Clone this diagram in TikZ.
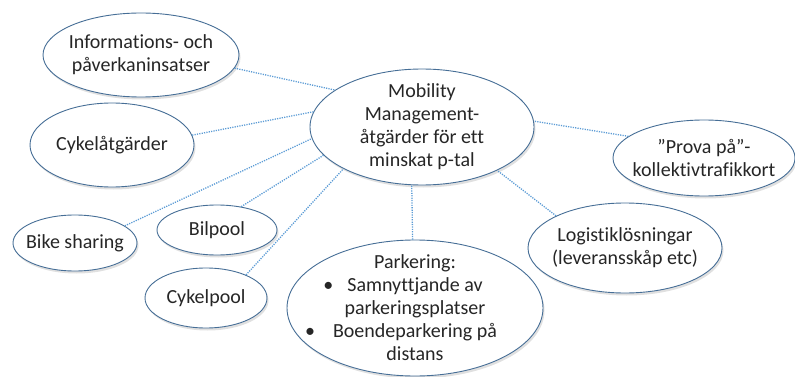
\documentclass[tikz,border=0pt]{standalone}
\usepackage{fontspec}
\setmainfont{Carlito}[Ligatures=NoCommon]
\usetikzlibrary{shapes.geometric,shadows}
\definecolor{edgeblue}{RGB}{70,110,150}
\definecolor{linkblue}{RGB}{91,155,213}
\tikzset{
  bubble/.style={ellipse, draw=edgeblue, line width=0.9pt, fill=white, inner sep=0pt,
    drop shadow={shadow xshift=1.5pt, shadow yshift=-2.5pt, opacity=0.35, fill=gray!70}},
  txt/.style={align=center, text=black!85, inner sep=0pt,
    font=\fontsize{20}{23}\selectfont},
  link/.style={draw=linkblue, line width=1.3pt, dash pattern=on 1.2pt off 1.2pt}
}
\begin{document}
\begin{tikzpicture}[x=1pt,y=-1pt]
\useasboundingbox (0,0) rectangle (795,377);
\node[bubble, minimum width=224pt, minimum height=116pt,
  label={[txt]center:{Mobility\\Management-\\åtgärder för ett\\minskat p-tal}}] (main) at (422,127) {};
\node[bubble, minimum width=196pt, minimum height=84pt,
  label={[txt]center:{Informations- och\\påverkaninsatser}}] (info) at (141,55) {};
\node[bubble, minimum width=164pt, minimum height=84pt,
  label={[txt]center:{Cykelåtgärder}}] (cykel) at (112,145) {};
\node[bubble, minimum width=124pt, minimum height=56pt,
  label={[txt]center:{Bike sharing}}] (bike) at (75,243) {};
\node[bubble, minimum width=120pt, minimum height=50pt,
  label={[txt]center:{Bilpool}}] (bil) at (217,230) {};
\node[bubble, minimum width=122pt, minimum height=60pt,
  label={[txt]center:{Cykelpool}}] (cpool) at (206,298) {};
\node[bubble, minimum width=256pt, minimum height=136pt,
  label={[txt]center:{Parkering:\\
   \llap{\textbullet\hspace{14pt}}Samnyttjande av\\
   parkeringsplatser\\
   \llap{\textbullet\hspace{18pt}}Boendeparkering på\\
   distans}}] (park) at (415,308) {};
\node[bubble, minimum width=194pt, minimum height=90pt,
  label={[txt]center:{Logistiklösningar\\(leveransskåp etc)}}] (logi) at (625,248) {};
\node[bubble, minimum width=182pt, minimum height=76pt,
  label={[txt]center:{”Prova på”-\\kollektivtrafikkort}}] (prova) at (704,158) {};
\path[link] (info.352) -- (main.157);
\path[link] (cykel.7) -- (main.172);
\path[link] (bike.19) -- (main.186);
\path[link] (bil.44) -- (main.196);
\path[link] (cpool.30) -- (main.208);
\path[link] (park.92) -- (main.260);
\path[link] (logi.155) -- (main.330);
\path[link] (prova.164) -- (main.3);
\end{tikzpicture}
\end{document}
